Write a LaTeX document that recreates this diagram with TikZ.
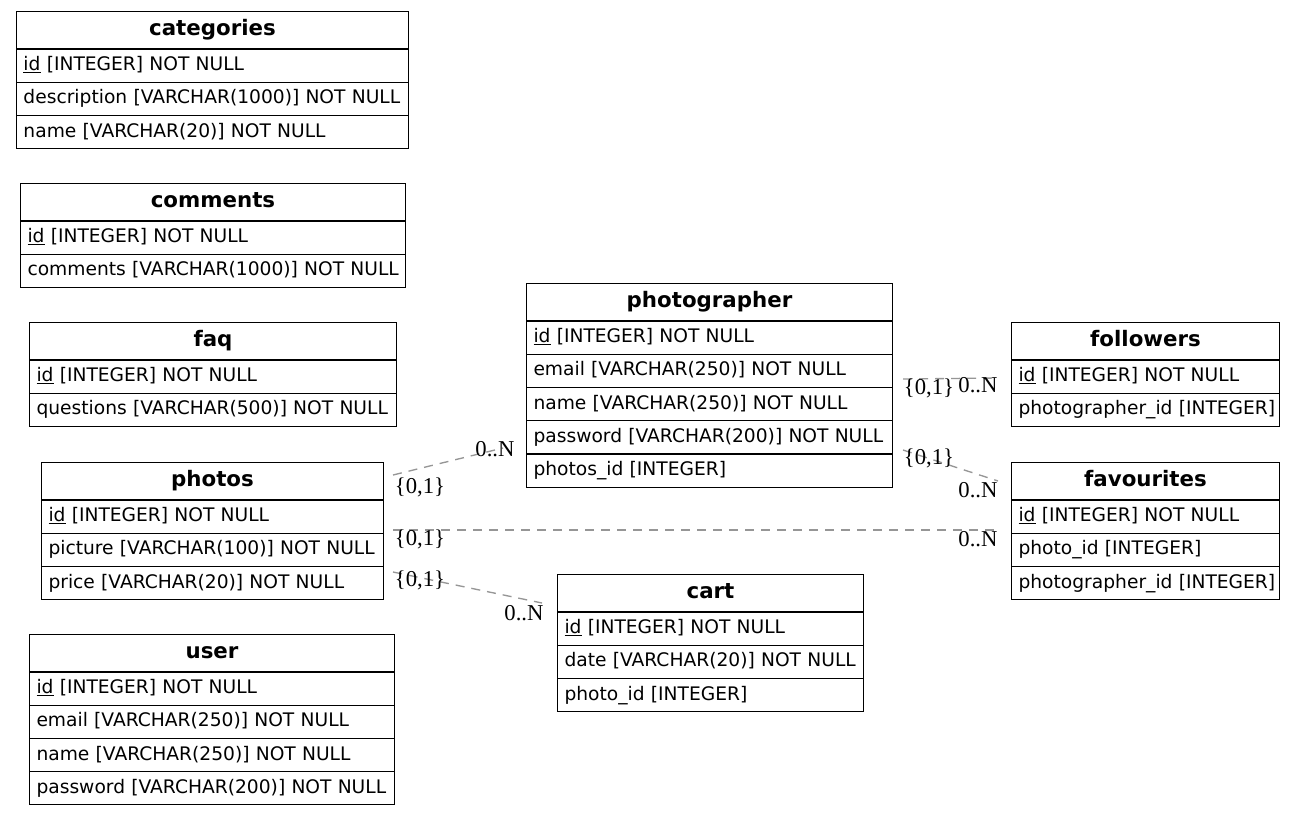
\documentclass[tikz,border=0pt]{standalone}
\usepackage{fontspec}
\setmainfont{DejaVu Sans}
\newfontfamily\lblfont{Liberation Serif}
\definecolor{edgegray}{RGB}{150,150,150}
\tikzset{
  tbltitle/.style={draw=black, line width=0.75pt, anchor=north west, inner sep=0pt,
    minimum height=27.9pt, font=\fontsize{16pt}{18pt}\selectfont\bfseries,
    text height=11.5pt, text depth=3pt},
  tblrow/.style={draw=black, line width=0.75pt, anchor=north west, inner ysep=0pt, inner xsep=5.25pt,
    minimum height=24.9pt, align=left, font=\fontsize{14pt}{16pt}\selectfont,
    text height=10.5pt, text depth=3pt},
  rel/.style={draw=edgegray, line width=1pt, dash pattern=on 6.75pt off 5.25pt},
  lbl/.style={inner sep=0pt, font=\lblfont\fontsize{17pt}{19pt}\selectfont}
}
\newcommand\ertable[6]{%
  \pgfmathsetlengthmacro\ertw{(#4-14)*0.75pt}%
  \pgfmathsetlengthmacro\erw{#4*0.75pt}%
  \node[tbltitle, minimum width=\erw] (#1) at (#2,#3) {#5};
  \foreach \r [count=\i] in {#6} {
    \node[tblrow, minimum width=\erw, text width=\ertw] (#1-\i) at (#2,{#3+37.5+(\i-1)*33.25}) {\mbox{\r}};
  }%
}
\begin{document}
\begin{tikzpicture}[x=0.75pt,y=-0.75pt]
\useasboundingbox[fill=white] (0,0) rectangle (1296,815);

\ertable{categories}{16}{11}{392}{categories}{\underline{id} [INTEGER] NOT NULL, description [VARCHAR(1000)] NOT NULL, name [VARCHAR(20)] NOT NULL}
\ertable{comments}{20}{183}{385}{comments}{\underline{id} [INTEGER] NOT NULL, comments [VARCHAR(1000)] NOT NULL}
\ertable{faq}{29}{322}{367}{faq}{\underline{id} [INTEGER] NOT NULL, questions [VARCHAR(500)] NOT NULL}
\ertable{photos}{41}{462}{342}{photos}{\underline{id} [INTEGER] NOT NULL, picture [VARCHAR(100)] NOT NULL, price [VARCHAR(20)] NOT NULL}
\ertable{user}{29}{634}{365}{user}{\underline{id} [INTEGER] NOT NULL, email [VARCHAR(250)] NOT NULL, name [VARCHAR(250)] NOT NULL, password [VARCHAR(200)] NOT NULL}
\ertable{photographer}{526}{283}{366}{photographer}{\underline{id} [INTEGER] NOT NULL, email [VARCHAR(250)] NOT NULL, name [VARCHAR(250)] NOT NULL, password [VARCHAR(200)] NOT NULL, photos\_id [INTEGER]}
\ertable{followers}{1011}{322}{268}{followers}{\underline{id} [INTEGER] NOT NULL, photographer\_id [INTEGER]}
\ertable{favourites}{1011}{462}{268}{favourites}{\underline{id} [INTEGER] NOT NULL, photo\_id [INTEGER], photographer\_id [INTEGER]}
\ertable{cart}{557}{574}{306}{cart}{\underline{id} [INTEGER] NOT NULL, date [VARCHAR(20)] NOT NULL, photo\_id [INTEGER]}

% connector end points
\coordinate (e1a) at (393,475);
\coordinate (e1b) at (503,448);
\coordinate (e2a) at (903,379);
\coordinate (e2b) at (998,378);
\coordinate (e3a) at (903,450);
\coordinate (e3b) at (998,481);
\coordinate (e4a) at (393,530);
\coordinate (e4b) at (998,530);
\coordinate (e5a) at (393,572);
\coordinate (e5b) at (542,603);

\draw[rel] (e1a) -- (e1b);
\draw[rel] (e2a) -- (e2b);
\draw[rel] (e3a) -- (e3b);
\draw[rel] (e4a) -- (e4b);
\draw[rel] (e5a) -- (e5b);

\node[lbl] (l1a) at (420,487) {\{0,1\}};
\node[lbl] (l1b) at (495,449) {0..N};
\node[lbl] (l2a) at (929,388) {\{0,1\}};
\node[lbl] (l2b) at (978,385) {0..N};
\node[lbl] (l3a) at (929,458) {\{0,1\}};
\node[lbl] (l3b) at (978,490) {0..N};
\node[lbl] (l4a) at (420,539) {\{0,1\}};
\node[lbl] (l4b) at (978,539) {0..N};
\node[lbl] (l5a) at (420,580) {\{0,1\}};
\node[lbl] (l5b) at (524,613) {0..N};
\end{tikzpicture}
\end{document}
